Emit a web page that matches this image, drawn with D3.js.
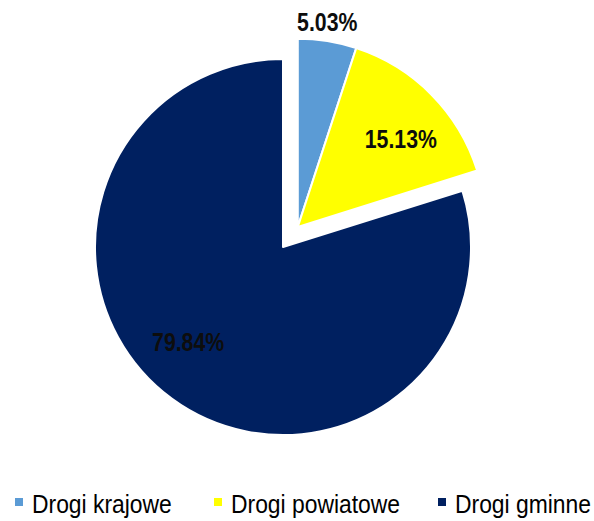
<!DOCTYPE html>
<html>
<head>
<meta charset="utf-8">
<script src="https://cdn.jsdelivr.net/npm/d3@7"></script>
<style>
  html, body { margin: 0; padding: 0; background: #fff; }
  svg { display: block; }
</style>
</head>
<body>
<svg id="chart" width="594" height="521"></svg>
<script>
const categories = ["Drogi krajowe", "Drogi powiatowe", "Drogi gminne"];
const values = [5.03, 15.13, 79.84];
const labels = ["5.03%", "15.13%", "79.84%"];
const colors = ["#5B9BD5", "#FFFF00", "#002060"];
const exploded = [true, true, false];

const svg = d3.select("#chart");
const cx = 283, cy = 247, R = 188, explodeDist = 25;

const pie = d3.pie().sort(null).value(d => d)(values);
const arc = d3.arc().innerRadius(0).outerRadius(R);

const ex = pie.filter((p, i) => exploded[i]);
const exMid = (d3.min(ex, p => p.startAngle) + d3.max(ex, p => p.endAngle)) / 2;
const offX = explodeDist * Math.sin(exMid), offY = -explodeDist * Math.cos(exMid);

const g = svg.append("g").attr("transform", `translate(${cx},${cy})`);

pie.forEach((p, i) => {
  const dx = exploded[i] ? offX : 0, dy = exploded[i] ? offY : 0;
  g.append("path")
    .attr("d", arc(p))
    .attr("transform", `translate(${dx},${dy})`)
    .attr("fill", colors[i])
    .attr("stroke", "#fff")
    .attr("stroke-width", 2)
    .attr("stroke-linejoin", "round");
});

// labels (condensed bold, Arial Narrow-like)
const labelRadius = [206, 135, 135];
const labelNudge = [[-3, -1], [7, 7], [-15, -13]];
pie.forEach((p, i) => {
  const dx = exploded[i] ? offX : 0, dy = exploded[i] ? offY : 0;
  const la = d3.arc().innerRadius(labelRadius[i]).outerRadius(labelRadius[i]);
  const c = la.centroid(p);
  g.append("text")
    .attr("transform", `translate(${c[0] + dx + labelNudge[i][0]},${c[1] + dy + labelNudge[i][1]}) scale(0.85,1)`)
    .attr("text-anchor", "middle")
    .attr("dominant-baseline", "central")
    .attr("font-family", "'Liberation Sans', Arial, sans-serif")
    .attr("font-weight", "bold")
    .attr("font-size", 25)
    .attr("fill", "#0d0d0d")
    .text(labels[i]);
});

// legend
const legendX = [15, 214, 438];
const legend = svg.append("g");
categories.forEach((c, i) => {
  legend.append("rect")
    .attr("x", legendX[i]).attr("y", 498)
    .attr("width", 8).attr("height", 8)
    .attr("fill", colors[i]);
  legend.append("text")
    .attr("transform", `translate(${legendX[i] + 17},513) scale(0.915,1)`)
    .attr("font-family", "'Liberation Sans', Arial, sans-serif")
    .attr("font-size", 25)
    .attr("fill", "#000")
    .text(c);
});
</script>
</body>
</html>
